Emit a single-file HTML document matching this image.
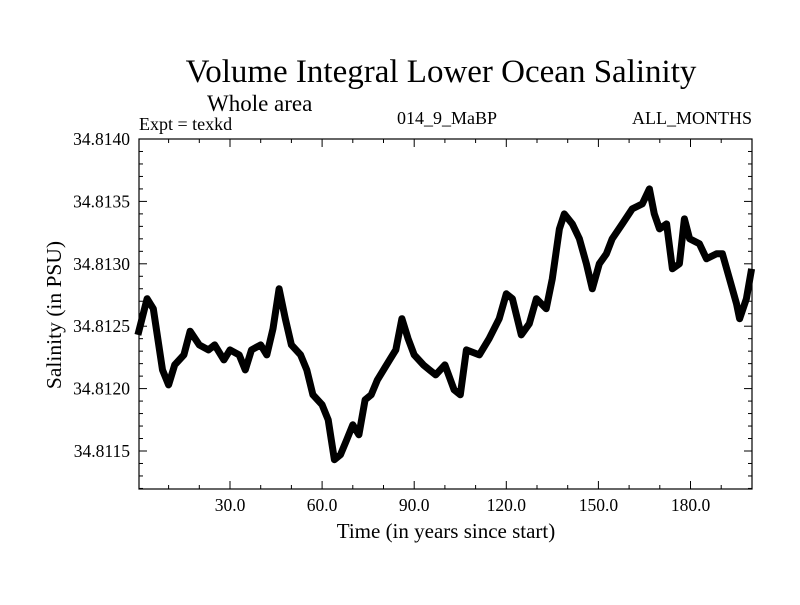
<!DOCTYPE html>
<html><head><meta charset="utf-8"><style>
body{margin:0;background:#fff;width:800px;height:600px;overflow:hidden}
svg text{font-family:"Liberation Serif",serif;fill:#000}
</style></head><body>
<svg id="chart" width="800" height="600" viewBox="0 0 800 600">
<text x="441" y="82" font-size="33" text-anchor="middle">Volume Integral Lower Ocean Salinity</text>
<text x="207" y="111" font-size="23">Whole area</text>
<text x="139" y="130" font-size="18">Expt = texkd</text>
<text x="447" y="124" font-size="18" text-anchor="middle">014_9_MaBP</text>
<text x="752" y="124" font-size="18" text-anchor="end">ALL_MONTHS</text>
<text x="446" y="538" font-size="21" text-anchor="middle">Time (in years since start)</text>
<text transform="translate(61,315) rotate(-90)" font-size="21.5" text-anchor="middle">Salinity (in PSU)</text>
<g id="ticks"></g>
<g id="plot"></g>
<rect x="139" y="139" width="613" height="350" fill="none" stroke="#000" stroke-width="1.2"/>
</svg>
<script>
const years=[0,3,5,8,10,12,15,17,20,23,25,28,30,33,35,37,40,42,44,46,48,50,53,55,57,60,62,63,64,66,68,70,72,74,76,78,80,82,84,86,88,90,93,95,97,100,103,105,107,111.2,114.4,117.7,120,122,124.9,127.5,129.8,133,135,137.3,138.9,141.5,143.8,146.1,148,150.3,152.6,154.5,157.8,161,164.3,166.6,168.2,169.9,172.2,174.1,176.4,178,179.7,182.9,185.2,188.5,190.4,192.7,195,196,198.2,199.9];
const salinity=[24.3,27.2,26.4,21.5,20.3,21.9,22.7,24.6,23.5,23.1,23.5,22.3,23.1,22.7,21.5,23.1,23.5,22.7,24.8,28.0,25.6,23.5,22.7,21.5,19.5,18.7,17.5,15.9,14.3,14.7,15.9,17.1,16.3,19.1,19.5,20.7,21.5,22.3,23.1,25.6,24.0,22.7,21.9,21.5,21.1,21.9,19.9,19.5,23.1,22.7,24.0,25.6,27.6,27.2,24.3,25.2,27.2,26.4,28.8,32.8,34.0,33.2,32.0,30.0,28.0,30.0,30.8,32.0,33.2,34.4,34.8,36.0,34.0,32.8,33.2,29.6,30.0,33.6,32.0,31.6,30.4,30.8,30.8,28.8,26.8,25.6,27.2,29.6];
const yTicks=[34.8115,34.8120,34.8125,34.8130,34.8135,34.8140];
const xTicks=[30,60,90,120,150,180];
const xs=v=>230+(v-30)*3.07;
const ys=v=>139+(34.8140-v)/0.0005*62.4;
const sv=s=>34.81+s*1e-4;
const NS='http://www.w3.org/2000/svg';
const tg=document.getElementById('ticks'),pg=document.getElementById('plot');
function line(x1,y1,x2,y2,n){const l=document.createElementNS(NS,'line');l.setAttribute('x1',x1);l.setAttribute('y1',y1);l.setAttribute('x2',x2);l.setAttribute('y2',y2);l.setAttribute('stroke','#000');l.setAttribute('stroke-width','1');


tg.appendChild(l);}
for(let k=0;k<=28;k++){const v=34.8112+k*0.0001;const y=ys(v);if(y<139||y>489)continue;const maj=yTicks.some(t=>Math.abs(t-v)<1e-7);const L=maj?8:4;line(139,y,139+L,y,'y-tick');line(752,y,752-L,y,'y-tick');}
for(let v=10;v<=200;v+=10){const x=xs(v);if(x>751)continue;const L=(v%30===0)?8:4;line(x,489,x,489-L,'x-tick');line(x,139,x,139+L,'x-tick');}
yTicks.forEach(t=>{const e=document.createElementNS(NS,'text');e.setAttribute('x',130);e.setAttribute('y',ys(t)+6);e.setAttribute('font-size','17.5');e.setAttribute('text-anchor','end');e.textContent=t.toFixed(4);


document.getElementById('chart').appendChild(e);});
xTicks.forEach(t=>{const e=document.createElementNS(NS,'text');e.setAttribute('x',xs(t));e.setAttribute('y',511);e.setAttribute('font-size','17.5');e.setAttribute('text-anchor','middle');e.textContent=t.toFixed(1);


document.getElementById('chart').appendChild(e);});
const p=document.createElementNS(NS,'polyline');
p.setAttribute('points',years.map((y,i)=>xs(y).toFixed(1)+','+ys(sv(salinity[i])).toFixed(1)).join(' '));
p.setAttribute('fill','none');p.setAttribute('stroke','#000');p.setAttribute('stroke-width','7');p.setAttribute('stroke-linejoin','round');


pg.appendChild(p);
</script>
</body></html>
